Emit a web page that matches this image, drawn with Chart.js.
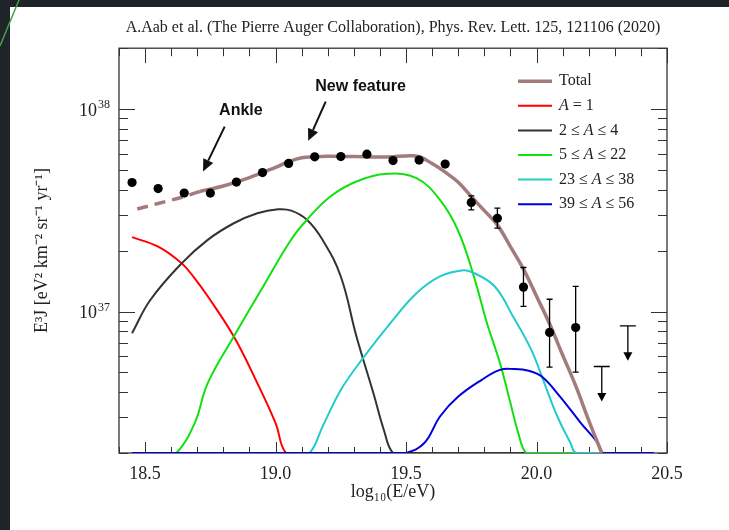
<!DOCTYPE html>
<html>
<head>
<meta charset="utf-8">
<title>Auger spectrum</title>
<script src="https://cdn.jsdelivr.net/npm/chart.js@4.4.1/dist/chart.umd.min.js"></script>
<style>
  html, body { margin: 0; padding: 0; background: #1e2427; }
  canvas { display: block; }
</style>
</head>
<body>
<canvas id="auger" width="729" height="530"></canvas>
<script>
// measured flux, E^3 J, at bin centres of log10(E/eV)
var energy = [18.45, 18.55, 18.65, 18.75, 18.85, 18.95, 19.05, 19.15, 19.25, 19.35, 19.45, 19.55, 19.65, 19.75, 19.85, 19.95, 20.05, 20.15];
var flux   = [4.34e37, 4.05e37, 3.85e37, 3.85e37, 4.36e37, 4.86e37, 5.39e37, 5.81e37, 5.83e37, 5.99e37, 5.57e37, 5.60e37, 5.35e37, 3.46e37, 2.89e37, 1.32e37, 7.88e36, 8.34e36];
var fluxLo = [null, null, null, null, null, null, null, null, null, null, null, null, null, 3.18e37, 2.58e37, 1.06e37, 5.31e36, 5.02e36];
var fluxHi = [null, null, null, null, null, null, null, null, null, null, null, null, null, 3.73e37, 3.24e37, 1.65e37, 1.15e37, 1.33e37];

// upper limits
var limitE   = [20.25, 20.35];
var limitTop = [5.35e36, 8.50e36];
var limitTip = [3.59e36, 5.71e36];

// fit: total and mass groups (values at the floor 2e36 mean "off the plot")
var totalE = [18.47, 18.55, 18.65, 18.71, 18.80, 18.90, 19.00, 19.05, 19.10, 19.15, 19.20, 19.30, 19.40, 19.45, 19.50, 19.55, 19.60, 19.65, 19.70, 19.75, 19.80, 19.85, 19.90, 19.95, 20.00, 20.05, 20.10, 20.15, 20.20, 20.25];
var totalJ = [3.21e37, 3.42e37, 3.70e37, 3.92e37, 4.17e37, 4.59e37, 5.16e37, 5.50e37, 5.75e37, 5.82e37, 5.85e37, 5.83e37, 5.80e37, 5.82e37, 5.87e37, 5.82e37, 5.38e37, 4.88e37, 4.35e37, 3.70e37, 3.15e37, 2.68e37, 2.09e37, 1.62e37, 1.19e37, 8.70e36, 6.10e36, 4.30e36, 2.90e36, 2.00e36];

var a1E = [18.45, 18.55, 18.64, 18.69, 18.74, 18.84, 18.93, 19.00, 19.04, 19.10, 20.45];
var a1J = [2.33e37, 2.09e37, 1.73e37, 1.46e37, 1.19e37, 7.52e36, 4.43e36, 2.81e36, 2.0e36, 2.0e36, 2.0e36];

var a2E = [18.45, 18.52, 18.64, 18.74, 18.84, 18.93, 19.01, 19.06, 19.12, 19.18, 19.25, 19.31, 19.375, 19.415, 19.45, 19.50, 20.45];
var a2J = [7.82e36, 1.14e37, 1.73e37, 2.26e37, 2.73e37, 3.06e37, 3.20e37, 3.15e37, 2.84e37, 2.26e37, 1.49e37, 7.52e36, 3.95e36, 2.60e36, 2.0e36, 2.0e36, 2.0e36];

var a5E = [18.45, 18.58, 18.62, 18.69, 18.74, 18.84, 18.945, 19.055, 19.12, 19.21, 19.31, 19.43, 19.54, 19.63, 19.70, 19.76, 19.81, 19.86, 19.90, 19.93, 19.96, 20.00, 20.45];
var a5J = [2.0e36, 2.0e36, 2.0e36, 2.81e36, 4.43e36, 7.52e36, 1.28e37, 2.22e37, 2.84e37, 3.70e37, 4.39e37, 4.79e37, 4.56e37, 3.56e37, 2.50e37, 1.49e37, 8.77e36, 5.56e36, 3.53e36, 2.51e36, 2.0e36, 2.0e36, 2.0e36];

var a23E = [18.45, 19.08, 19.13, 19.18, 19.25, 19.34, 19.44, 19.54, 19.63, 19.72, 19.76, 19.84, 19.91, 19.98, 20.03, 20.08, 20.13, 20.15, 20.20, 20.45];
var a23J = [2.0e36, 2.0e36, 2.0e36, 2.70e36, 4.10e36, 6.00e36, 8.77e36, 1.23e37, 1.49e37, 1.60e37, 1.55e37, 1.33e37, 9.45e36, 6.47e36, 4.43e36, 3.03e36, 2.24e36, 2.0e36, 2.0e36, 2.0e36];

var a39E = [18.45, 19.45, 19.50, 19.57, 19.63, 19.70, 19.79, 19.86, 19.91, 19.97, 20.02, 20.09, 20.17, 20.235, 20.255, 20.30, 20.45];
var a39J = [2.0e36, 2.0e36, 2.0e36, 2.24e36, 3.03e36, 3.80e36, 4.60e36, 5.15e36, 5.20e36, 5.10e36, 4.77e36, 3.80e36, 2.81e36, 2.24e36, 2.0e36, 2.0e36, 2.0e36];

// y ticks (log axis)
var yTicks = [];
[36, 37].forEach(function(d) {
    for (var m = 1; m <= 9; m++) {
        if (d == 36 && m < 2) continue;
        yTicks.push(m * Math.pow(10, d));
    }
});
yTicks.push(1e38, 2e38);

// text labels on the plot, in data coordinates
var notes = [
    { text: "Ankle", at: [18.867, 9.8e37], from: [18.805, 8.2e37], to: [18.722, 4.92e37] },
    { text: "New feature", at: [19.326, 1.296e38], from: [19.192, 1.09e38], to: [19.125, 6.97e37] }
];

var SERIF = "'Liberation Serif', 'Times New Roman', serif";
var SANS = "'Liberation Sans', Arial, sans-serif";
var SUP = { "0": "\u2070", "1": "\u00b9", "2": "\u00b2", "3": "\u00b3", "4": "\u2074", "5": "\u2075", "6": "\u2076", "7": "\u2077", "8": "\u2078", "9": "\u2079", "-": "\u207b" };

function sup(s) {
    return String(s).split("").map(function(c) { return SUP[c] || c; }).join("");
}
function isHalf(v) { return Math.abs(v * 2 - Math.round(v * 2)) < 1e-6; }
function isDecade(v) { var l = Math.log10(v); return Math.abs(l - Math.round(l)) < 1e-6; }
function pts(xs, ys) { return xs.map(function(x, i) { return { x: x, y: ys[i] }; }); }

function curve(label, xs, ys, color, width, order) {
    return {
        label: label,
        data: pts(xs, ys),
        showLine: true,
        pointRadius: 0,
        pointHoverRadius: 0,
        borderColor: color,
        backgroundColor: color,
        borderWidth: width,
        tension: 0.4,
        fill: false,
        order: order,
        isCurve: true
    };
}

//page background (screenshot frame)
var backdrop = {
    id: "backdrop",
    beforeDraw: function(chart) {
        var ctx = chart.ctx;
        ctx.save();
        ctx.fillStyle = "#1e2427";
        ctx.fillRect(0, 0, chart.width, chart.height);
        ctx.fillStyle = "#ffffff";
        ctx.fillRect(10, 7, chart.width - 10, chart.height - 7);
        ctx.strokeStyle = "#45a04f";
        ctx.lineWidth = 1.5;
        ctx.beginPath();
        ctx.moveTo(19, 0);
        ctx.lineTo(0, 46);
        ctx.stroke();
        ctx.restore();
    }
};

//box around the plot with ticks pointing inwards, and 10^n labels
var frame = {
    id: "frame",
    beforeDatasetsDraw: function(chart) {
        var ctx = chart.ctx, a = chart.chartArea, x = chart.scales.x, y = chart.scales.y;
        ctx.save();
        ctx.strokeStyle = "#333";
        ctx.lineWidth = 1.3;
        ctx.strokeRect(a.left, a.top, a.right - a.left, a.bottom - a.top);
        ctx.lineWidth = 1;
        ctx.beginPath();
        x.ticks.forEach(function(t) {
            var px = Math.round(x.getPixelForValue(t.value)) + 0.5;
            var major = isHalf(t.value);
            ctx.moveTo(px, a.bottom); ctx.lineTo(px, a.bottom - (major ? 11 : 6));
            ctx.moveTo(px, a.top); ctx.lineTo(px, a.top + (major ? 15 : 8));
        });
        y.ticks.forEach(function(t) {
            var py = Math.round(y.getPixelForValue(t.value)) + 0.5;
            var len = isDecade(t.value) ? 16 : 9;
            ctx.moveTo(a.left, py); ctx.lineTo(a.left + len, py);
            ctx.moveTo(a.right, py); ctx.lineTo(a.right - len, py);
        });
        ctx.stroke();

        ctx.fillStyle = "#222";
        ctx.textBaseline = "middle";
        y.ticks.forEach(function(t) {
            if (!isDecade(t.value)) return;
            var py = y.getPixelForValue(t.value);
            var exp = String(Math.round(Math.log10(t.value)));
            ctx.font = "12px " + SERIF;
            var ew = ctx.measureText(exp).width;
            ctx.textAlign = "left";
            ctx.fillText(exp, a.left - 9 - ew, py - 4);
            ctx.font = "18px " + SERIF;
            ctx.textAlign = "right";
            ctx.fillText("10", a.left - 10 - ew, py + 2);
        });
        ctx.restore();
    }
};

//error bars and upper limit arrows
var errorBars = {
    id: "errorBars",
    afterDatasetsDraw: function(chart) {
        var ctx = chart.ctx, x = chart.scales.x, y = chart.scales.y;
        ctx.save();
        ctx.strokeStyle = "#000";
        ctx.fillStyle = "#000";
        ctx.lineWidth = 1.3;
        energy.forEach(function(e, i) {
            if (fluxLo[i] == null) return;
            var px = x.getPixelForValue(e);
            var lo = y.getPixelForValue(fluxLo[i]), hi = y.getPixelForValue(fluxHi[i]);
            ctx.beginPath();
            ctx.moveTo(px, lo); ctx.lineTo(px, hi);
            ctx.moveTo(px - 3, lo); ctx.lineTo(px + 3, lo);
            ctx.moveTo(px - 3, hi); ctx.lineTo(px + 3, hi);
            ctx.stroke();
        });
        limitE.forEach(function(e, i) {
            var px = x.getPixelForValue(e);
            var top = y.getPixelForValue(limitTop[i]), tip = y.getPixelForValue(limitTip[i]);
            ctx.beginPath();
            ctx.moveTo(px - 8, top); ctx.lineTo(px + 8, top);
            ctx.moveTo(px, top); ctx.lineTo(px, tip - 7);
            ctx.stroke();
            ctx.beginPath();
            ctx.moveTo(px - 4.5, tip - 8.5);
            ctx.lineTo(px + 4.5, tip - 8.5);
            ctx.lineTo(px, tip);
            ctx.closePath();
            ctx.fill();
        });
        ctx.restore();
    }
};

//"Ankle" / "New feature" notes with arrows
var annotate = {
    id: "annotate",
    afterDatasetsDraw: function(chart) {
        var ctx = chart.ctx, x = chart.scales.x, y = chart.scales.y;
        ctx.save();
        ctx.fillStyle = "#111";
        ctx.strokeStyle = "#111";
        ctx.font = "bold 16px " + SANS;
        ctx.textAlign = "center";
        ctx.textBaseline = "middle";
        notes.forEach(function(n) {
            ctx.fillText(n.text, x.getPixelForValue(n.at[0]), y.getPixelForValue(n.at[1]));
            var x0 = x.getPixelForValue(n.from[0]), y0 = y.getPixelForValue(n.from[1]);
            var x1 = x.getPixelForValue(n.to[0]), y1 = y.getPixelForValue(n.to[1]);
            var ang = Math.atan2(y1 - y0, x1 - x0);
            var hl = 12, hw = 5.5;
            var bx = x1 - hl * Math.cos(ang), by = y1 - hl * Math.sin(ang);
            ctx.lineWidth = 2;
            ctx.beginPath();
            ctx.moveTo(x0, y0);
            ctx.lineTo(bx, by);
            ctx.stroke();
            ctx.beginPath();
            ctx.moveTo(x1, y1);
            ctx.lineTo(bx + hw * Math.sin(ang), by - hw * Math.cos(ang));
            ctx.lineTo(bx - hw * Math.sin(ang), by + hw * Math.cos(ang));
            ctx.closePath();
            ctx.fill();
        });
        ctx.restore();
    }
};

//legend inside the plot, top right, with italic A
var legendBox = {
    id: "legendBox",
    afterDatasetsDraw: function(chart) {
        var ctx = chart.ctx, a = chart.chartArea;
        var row = 0;
        ctx.save();
        ctx.textBaseline = "middle";
        ctx.fillStyle = "#222";
        chart.data.datasets.forEach(function(ds) {
            if (!ds.isCurve) return;
            var yy = a.top + 33 + row * 24.6;
            ctx.strokeStyle = ds.borderColor;
            ctx.lineWidth = ds.borderWidth;
            ctx.beginPath();
            ctx.moveTo(a.right - 149, yy);
            ctx.lineTo(a.right - 115, yy);
            ctx.stroke();
            var tx = a.right - 108;
            var parts = ds.label.split("A");
            parts.forEach(function(p, k) {
                ctx.font = "16px " + SERIF;
                ctx.fillText(p, tx, yy);
                tx += ctx.measureText(p).width;
                if (k < parts.length - 1) {
                    ctx.font = "italic 16px " + SERIF;
                    ctx.fillText("A", tx, yy);
                    tx += ctx.measureText("A").width;
                }
            });
            row++;
        });
        ctx.restore();
    }
};

Chart.defaults.color = "#222";
Chart.defaults.font.family = SERIF;

var total = curve("Total", totalE, totalJ, "#a27b7b", 3.5, 1);
total.segment = {
    borderDash: function(c) { return c.p1.parsed.x <= 18.72 ? [11, 7] : undefined; }
};

var chart = new Chart(document.getElementById("auger"), {
    type: "line",
    data: {
        datasets: [
            {
                label: "data",
                data: pts(energy, flux),
                showLine: false,
                pointRadius: 4.6,
                pointHoverRadius: 4.6,
                backgroundColor: "#000",
                borderColor: "#000",
                borderWidth: 0,
                order: 0
            },
            total,
            curve("A = 1", a1E, a1J, "#ff0000", 2, 6),
            curve("2 \u2264 A \u2264 4", a2E, a2J, "#333333", 2, 5),
            curve("5 \u2264 A \u2264 22", a5E, a5J, "#11e011", 2, 4),
            curve("23 \u2264 A \u2264 38", a23E, a23J, "#22cccc", 2, 3),
            curve("39 \u2264 A \u2264 56", a39E, a39J, "#0000dd", 2, 2)
        ]
    },
    options: {
        responsive: false,
        animation: false,
        events: [],
        layout: { padding: { left: 0, right: 62, top: 0, bottom: 0 } },
        plugins: {
            legend: { display: false },
            tooltip: { enabled: false },
            title: {
                display: true,
                fullSize: false,
                text: "A.Aab et al. (The Pierre Auger Collaboration), Phys. Rev. Lett. 125, 121106 (2020)",
                color: "#222",
                font: { family: SERIF, size: 16, weight: "normal" },
                padding: { top: 18, bottom: 11 }
            }
        },
        scales: {
            x: {
                type: "linear",
                min: 18.4,
                max: 20.5,
                afterFit: function(s) { s.height = 77; },
                grid: { display: false },
                border: { display: false },
                ticks: {
                    stepSize: 0.1,
                    autoSkip: false,
                    maxRotation: 0,
                    padding: 2,
                    color: "#222",
                    font: { family: SERIF, size: 18 },
                    callback: function(v) { return isHalf(v) ? Number(v).toFixed(1) : ""; }
                },
                title: {
                    display: true,
                    text: "log\u2081\u2080(E/eV)",
                    color: "#222",
                    font: { family: SERIF, size: 18 },
                    padding: { top: 0, bottom: 27 }
                }
            },
            y: {
                type: "logarithmic",
                min: 2e36,
                max: 2e38,
                afterFit: function(s) { s.width = 119; },
                afterBuildTicks: function(s) {
                    s.ticks = yTicks.map(function(v) { return { value: v, major: isDecade(v) }; });
                },
                grid: { display: false },
                border: { display: false },
                ticks: {
                    autoSkip: false,
                    callback: function() { return ""; }
                },
                title: {
                    display: true,
                    text: "E" + sup(3) + "J [eV" + sup(2) + " km" + sup("-2") + " sr" + sup("-1") + " yr" + sup("-1") + "]",
                    color: "#222",
                    font: { family: SERIF, size: 18 },
                    padding: { top: 31, bottom: 0 }
                }
            }
        }
    },
    plugins: [backdrop, frame, errorBars, annotate, legendBox]
});
</script>
</body>
</html>
